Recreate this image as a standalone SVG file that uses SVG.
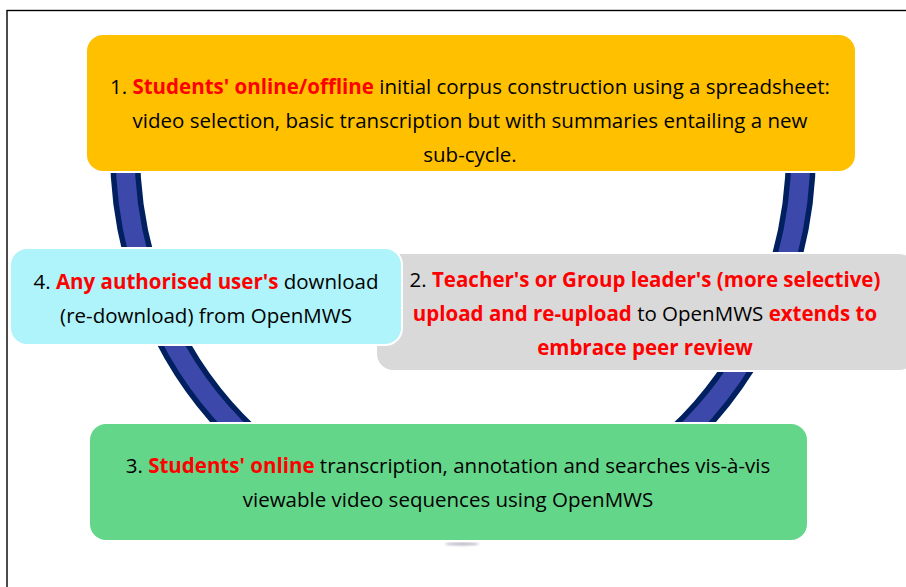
<svg xmlns="http://www.w3.org/2000/svg" width="906" height="587" viewBox="0 0 906 587">
  <defs>
    <style>
      .t { font-family: "Open Sans", "Liberation Sans", sans-serif; font-size: 20.5px; fill: #000000; text-anchor: middle; }
      .r { fill: #FF0000; font-weight: bold; }
      .box { stroke: #FFFFFF; stroke-width: 2; }
    </style>
    <filter id="soft" x="-50%" y="-200%" width="200%" height="500%">
      <feGaussianBlur stdDeviation="1.2"/>
    </filter>
  </defs>

  <rect width="906" height="587" fill="#FFFFFF"/>
  <!-- page frame -->
  <rect x="7" y="10.5" width="940" height="620" fill="none" stroke="#000000" stroke-width="1.4"/>

  <!-- cycle ring -->
  <g id="connectors">
    <ellipse cx="462" cy="544" rx="17" ry="1.5" fill="#B8B4C4" filter="url(#soft)"/>
    <path d="M 125.12 140 A 338 375 0 1 0 800.88 140" fill="none" stroke="#002060" stroke-width="30"/>
    <path d="M 125.12 140 A 338 375 0 1 0 800.88 140" fill="none" stroke="#3C48AA" stroke-width="19"/>
  </g>

  <g id="node1">
    <rect class="box" x="86" y="34" width="770" height="138" rx="17" fill="#FFC000"/>
    <text class="t" x="470" y="94"><tspan>1. </tspan><tspan class="r">Students' online/offline</tspan><tspan> initial corpus construction using a spreadsheet:</tspan></text>
    <text class="t" x="470" y="128">video selection, basic transcription but with summaries entailing a new</text>
    <text class="t" x="470" y="162">sub-cycle.</text>
  </g>

  <g id="node3">
    <rect class="box" x="89" y="423" width="719" height="118" rx="17" fill="#64D68A"/>
    <text class="t" x="448" y="473"><tspan>3. </tspan><tspan class="r">Students' online</tspan><tspan> transcription, annotation and searches vis-à-vis</tspan></text>
    <text class="t" x="448" y="507">viewable video sequences using OpenMWS</text>
  </g>

  <g id="node2">
    <rect class="box" x="376" y="253" width="540" height="118" rx="17" fill="#D9D9D9"/>
    <text class="t" x="645" y="287"><tspan>2. </tspan><tspan class="r">Teacher's or Group leader's (more selective)</tspan></text>
    <text class="t" x="645" y="321"><tspan class="r">upload and re-upload</tspan><tspan> to OpenMWS </tspan><tspan class="r">extends to</tspan></text>
    <text class="t" x="645" y="355"><tspan class="r">embrace peer review</tspan></text>
  </g>

  <g id="node4">
    <rect class="box" x="10" y="248" width="392" height="97" rx="17" fill="#AFF3FB"/>
    <text class="t" x="206" y="289"><tspan>4. </tspan><tspan class="r">Any authorised user's</tspan><tspan> download</tspan></text>
    <text class="t" x="206" y="323">(re-download) from OpenMWS</text>
  </g>
</svg>
